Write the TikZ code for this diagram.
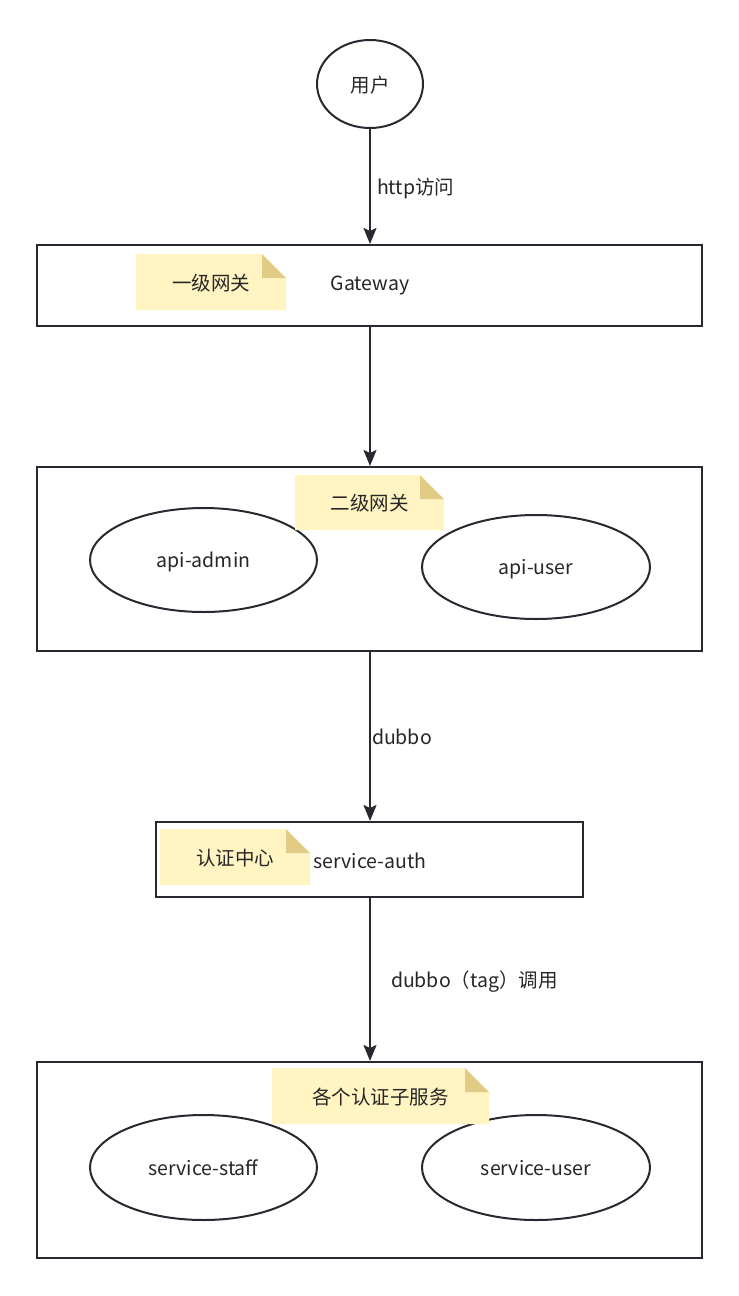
\documentclass[tikz,border=0pt]{standalone}
\usepackage{fontspec}
\setmainfont{Noto Sans CJK SC}
\usetikzlibrary{arrows.meta,shapes.geometric}
\definecolor{linecol}{HTML}{262A30}
\definecolor{textcol}{HTML}{262626}
\definecolor{notefill}{HTML}{FFF4C2}
\definecolor{notefold}{HTML}{E2CC85}
\begin{document}
\begin{tikzpicture}[x=1pt,y=-1pt,
  font=\fontsize{19.5}{23}\selectfont, text=textcol,
  every node/.style={text depth=0pt},
  frame/.style={draw=linecol,line width=2pt,rectangle,inner sep=0pt},
  oval/.style={draw=linecol,line width=2pt,ellipse,inner sep=0pt},
  link/.style={draw=linecol,line width=2pt,-{Stealth[length=16pt,width=13pt,inset=3pt]}},
  lbl/.style={anchor=west,inner sep=0pt,text=textcol},
  notebox/.style={rectangle,inner sep=0pt,
    path picture={
      \fill[notefill] (path picture bounding box.south west)
        -- (path picture bounding box.north west)
        -- ([xshift=-24pt]path picture bounding box.north east)
        -- ([yshift=-24pt]path picture bounding box.north east)
        -- (path picture bounding box.south east) -- cycle;
      \fill[notefold] ([xshift=-24pt]path picture bounding box.north east)
        -- ([yshift=-24pt]path picture bounding box.north east)
        -- ([xshift=-24pt,yshift=-24pt]path picture bounding box.north east) -- cycle;
    }}]
\useasboundingbox (0,0) rectangle (739,1296);
\fill[white] (0,0) rectangle (739,1296);

% user
\node[oval,minimum width=106pt,minimum height=88pt] (user) at (370,84) {用户};

% first-level gateway
\node[frame,minimum width=665pt,minimum height=81pt] (gw) at (369.5,285.5) {};
\node at (370,283) {Gateway};
\node[notebox,minimum width=150pt,minimum height=56pt] (note1) at (211,282) {一级网关};

% second-level gateway
\node[frame,minimum width=665pt,minimum height=184pt] (api) at (369.5,559) {};
\node[oval,minimum width=227pt,minimum height=104pt] (apiadmin) at (203.5,560) {api-admin};
\node[oval,minimum width=228pt,minimum height=104pt] (apiuser) at (536,567) {api-user};
\node[notebox,minimum width=149pt,minimum height=55pt] (note2) at (369.5,502.5) {二级网关};

% auth centre
\node[frame,minimum width=427pt,minimum height=75pt] (auth) at (369.5,859.5) {};
\node at (370,861) {service-auth};
\node[notebox,minimum width=150pt,minimum height=56pt] (note3) at (235,857) {认证中心};

% auth sub-services
\node[frame,minimum width=665pt,minimum height=196pt] (subs) at (369.5,1160) {};
\node[oval,minimum width=227pt,minimum height=105pt] (staff) at (203.5,1167.5) {service-staff};
\node[oval,minimum width=228pt,minimum height=105pt] (suser) at (536,1167.5) {service-user};
\node[notebox,minimum width=217pt,minimum height=56pt] (note4) at (380.5,1096) {各个认证子服务};

% connectors, all on the vertical axis through the user node
\draw[link] (user.south) -- node[lbl,xshift=6pt] {http访问} (gw.north -| user.south);
\draw[link] (gw.south -| user.south) -- (api.north -| user.south);
\draw[link] (api.south -| user.south) -- node[lbl,xshift=1pt] {dubbo} (auth.north -| user.south);
\draw[link] (auth.south -| user.south) -- node[lbl,xshift=20pt] {dubbo（tag）调用} (subs.north -| user.south);
\end{tikzpicture}
\end{document}
